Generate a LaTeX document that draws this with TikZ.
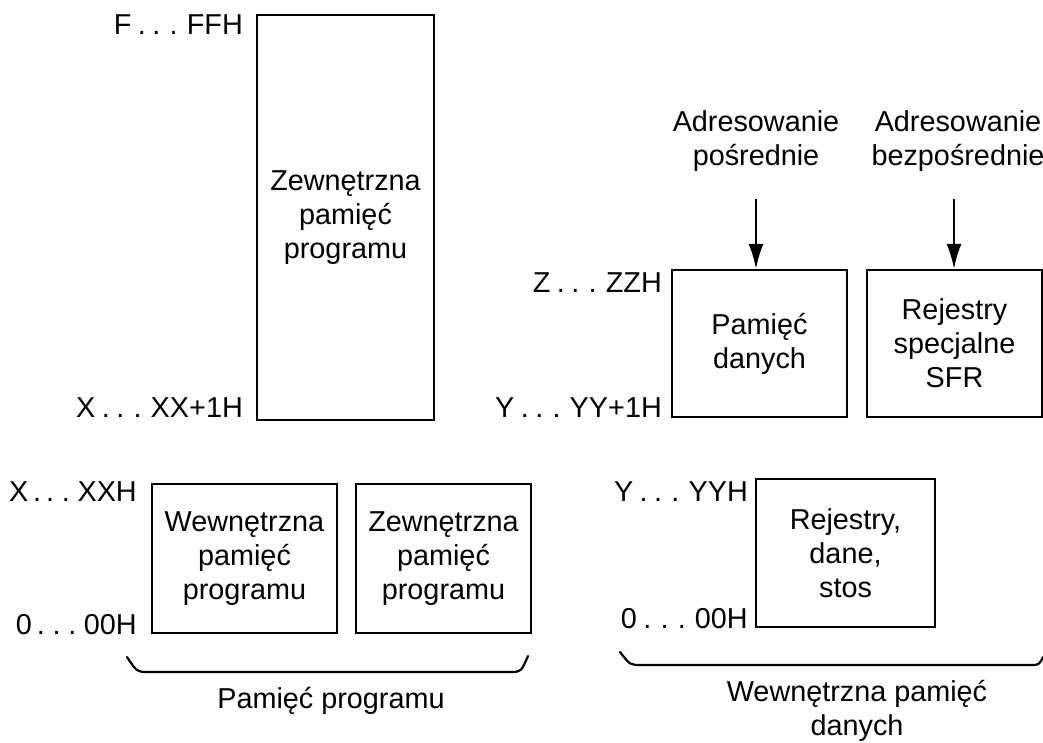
\documentclass[tikz,border=0pt]{standalone}
\usepackage{fontspec}
\setmainfont{Liberation Sans}
\usetikzlibrary{arrows.meta}
\begin{document}
\begin{tikzpicture}[x=1pt,y=-1pt,
  every node/.style={font=\fontsize{28.8}{34}\selectfont},
  membox/.style={draw, line width=2.2pt, align=center, inner sep=0pt},
  addr/.style={anchor=base east, inner sep=0pt,
    execute at begin node={\spaceskip=6.5pt\relax}},
  narrowaddr/.style={anchor=base east, inner sep=0pt,
    execute at begin node={\spaceskip=5pt\relax}},
  caption/.style={align=center, inner sep=0pt},
  feed/.style={line width=2.2pt, -{Latex[length=25pt,width=15pt]}},
  brace/.style={line width=2.2pt, line cap=round, line join=round}]
  \useasboundingbox (0,0) rectangle (1043,743);

  % program memory
  \node[membox, minimum width=177pt, minimum height=405pt] (ext) at (345.5,217.5) {Zewnętrzna\\pamięć\\programu};
  \node[addr] (extTop) at (243,34.5) {F . . . FFH};
  \node[addr] (extBot) at (243,417.5) {X . . . XX+1H};

  \node[membox, minimum width=185pt, minimum height=149pt] (intprog) at (244.5,558.5) {Wewnętrzna\\pamięć\\programu};
  \node[membox, minimum width=175pt, minimum height=149pt] (extprog) at (443.5,558.5) {Zewnętrzna\\pamięć\\programu};
  \node[narrowaddr] (intTop) at (137,501.5) {X . . . XXH};
  \node[narrowaddr] (intBot) at (137,634.5) {0 . . . 00H};

  \draw[brace] (127,657) .. controls (137,672) .. (148,672) -- (510,672) .. controls (521,672) .. (528,656);
  \node[caption] (progcap) at (331,701) {Pamięć programu};

  % data memory
  \node[membox, minimum width=175pt, minimum height=147pt] (dat) at (759.5,343.5) {Pamięć\\danych};
  \node[membox, minimum width=175pt, minimum height=147pt] (sfr) at (954.5,343.5) {Rejestry\\specjalne\\SFR};
  \node[addr] (datTop) at (662,292.5) {Z . . . ZZH};
  \node[addr] (datBot) at (662,417.5) {Y . . . YY+1H};

  \node[caption] (ind) at (756,141.5) {Adresowanie\\pośrednie};
  \node[caption] (dir) at (958,141.5) {Adresowanie\\bezpośrednie};
  \coordinate (indStart) at (756,199);
  \coordinate (dirStart) at (954,199);
  \draw[feed] (indStart) -- (indStart |- dat.north);
  \draw[feed] (dirStart) -- (dirStart |- sfr.north);

  \node[membox, minimum width=179pt, minimum height=148pt] (reg) at (845.5,553) {Rejestry,\\dane,\\stos};
  \node[addr] (regTop) at (748,501.5) {Y . . . YYH};
  \node[addr] (regBot) at (748,628.5) {0 . . . 00H};

  \draw[brace] (620,652) .. controls (630,665) .. (641,665) -- (1030,665) .. controls (1039,665) .. (1043,657);
  \node[caption] (datcap) at (857,711) {Wewnętrzna pamięć\\danych};
\end{tikzpicture}
\end{document}
